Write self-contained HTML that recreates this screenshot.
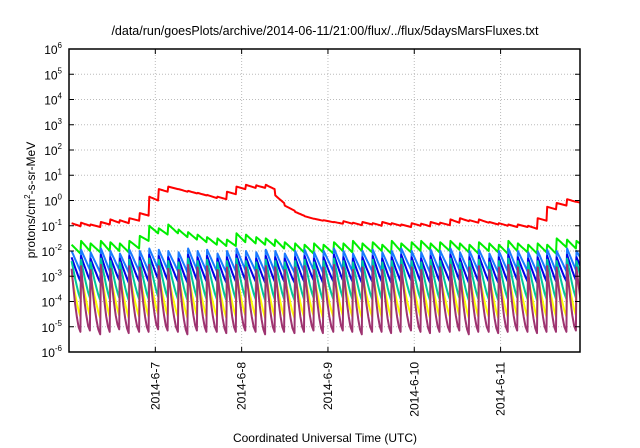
<!DOCTYPE html>
<html><head><meta charset="utf-8"><style>
html,body{margin:0;padding:0;background:#fff;width:640px;height:448px;overflow:hidden}
svg{display:block;font-family:"Liberation Sans",sans-serif}
</style></head><body>
<svg id="chart" width="640" height="448" viewBox="0 0 640 448">
<text x="325" y="35" text-anchor="middle" font-size="12.5" fill="#000">/data/run/goesPlots/archive/2014-06-11/21:00/flux/../flux/5daysMarsFluxes.txt</text>
<text x="325" y="442" text-anchor="middle" font-size="12" fill="#000">Coordinated Universal Time (UTC)</text>
<text transform="translate(35,200) rotate(-90)" text-anchor="middle" font-size="12" fill="#000">protons/cm<tspan dy="-5" font-size="8">2</tspan><tspan dy="5">-s-sr-MeV</tspan></text>
<g id="grid"></g><g id="series"></g><g id="axes"></g>
</svg>
<script>
const yTicks=[6,5,4,3,2,1,0,-1,-2,-3,-4,-5,-6];
const xTicks=[7,8,9,10,11];
const xTickLabels=["2014-6-7","2014-6-8","2014-6-9","2014-6-10","2014-6-11"];
const cycleTimes=[6.03,6.14,6.25,6.37,6.48,6.59,6.70,6.82,6.93,7.04,7.15,7.27,7.38,7.49,7.60,7.72,7.83,7.94,8.05,8.17,8.28,8.39,8.50,8.62,8.73,8.84,8.95,9.07,9.18,9.29,9.40,9.52,9.63,9.74,9.85,9.97,10.08,10.19,10.30,10.42,10.53,10.64,10.75,10.87,10.98,11.09,11.20,11.32,11.43,11.54,11.65,11.77,11.88];
const redPeaks=[-0.90,-0.88,-0.95,-0.85,-0.75,-0.78,-0.70,-0.5,0.15,0.45,0.55,0.45,0.38,0.30,0.22,0.15,0.35,0.55,0.62,0.60,0.62,0.2,-0.2,-0.45,-0.62,-0.72,-0.78,-0.85,-0.82,-0.88,-0.85,-0.9,-0.85,-0.9,-0.95,-0.9,-0.92,-0.85,-0.88,-0.75,-0.7,-0.78,-0.75,-0.85,-0.9,-0.95,-0.95,-1.0,-0.7,-0.25,-0.1,0.05,-0.05];
const redTroughs=[-1.02,-1.0,-1.05,-0.95,-0.88,-0.9,-0.8,-0.6,0.0,0.35,0.45,0.35,0.28,0.2,0.1,0.05,0.25,0.45,0.5,0.5,0.45,-0.1,-0.4,-0.6,-0.72,-0.8,-0.86,-0.92,-0.92,-0.98,-0.95,-1.0,-0.95,-1.0,-1.05,-1.0,-1.02,-0.95,-0.98,-0.88,-0.82,-0.88,-0.88,-0.95,-1.0,-1.05,-1.05,-1.12,-0.8,-0.35,-0.2,-0.05,-0.15];
const greenPeaks=[-1.75,-1.6,-1.7,-1.6,-1.65,-1.7,-1.6,-1.4,-1.0,-1.1,-0.95,-1.15,-1.25,-1.35,-1.45,-1.5,-1.55,-1.3,-1.35,-1.45,-1.5,-1.55,-1.65,-1.7,-1.75,-1.7,-1.75,-1.65,-1.7,-1.6,-1.7,-1.65,-1.75,-1.6,-1.7,-1.65,-1.6,-1.7,-1.65,-1.6,-1.7,-1.75,-1.65,-1.7,-1.75,-1.6,-1.7,-1.75,-1.7,-1.75,-1.5,-1.55,-1.6];
const greenTroughs=[-2.1,-2.0,-2.05,-2.0,-2.0,-2.05,-1.9,-1.6,-1.3,-1.35,-1.3,-1.45,-1.55,-1.65,-1.75,-1.8,-1.8,-1.65,-1.7,-1.75,-1.8,-1.9,-2.0,-2.05,-2.1,-2.05,-2.1,-2.0,-2.05,-2.0,-2.05,-2.0,-2.1,-2.0,-2.05,-2.0,-1.95,-2.05,-2.0,-1.95,-2.05,-2.1,-2.0,-2.05,-2.1,-2.0,-2.05,-2.1,-2.05,-2.1,-1.85,-1.9,-1.95];
const lblueSeries=[-2.0,-1.95,-2.05,-1.9,-2.0,-2.1,-1.95,-2.0,-1.9,-1.95,-2.0,-2.05,-1.9,-2.0,-1.95,-2.1,-2.0,-1.9,-2.0,-2.05,-1.95,-2.0,-2.1,-2.0,-1.95,-2.05,-2.0,-1.9,-2.0,-2.1,-2.0,-1.95,-2.05,-2.0,-1.9,-2.0,-2.05,-1.95,-2.0,-1.9,-2.05,-2.0,-1.95,-2.1,-2.0,-1.9,-2.0,-2.05,-2.0,-1.95,-2.0,-1.9,-2.0];
const lblueTroughs=[-2.8,-2.75,-2.85,-2.8,-2.75,-2.85,-2.8,-2.8,-2.7,-2.75,-2.8,-2.85,-2.75,-2.8,-2.8,-2.85,-2.8,-2.75,-2.8,-2.85,-2.8,-2.8,-2.85,-2.8,-2.75,-2.85,-2.8,-2.75,-2.8,-2.85,-2.8,-2.8,-2.85,-2.8,-2.75,-2.8,-2.85,-2.8,-2.8,-2.75,-2.85,-2.8,-2.8,-2.85,-2.8,-2.75,-2.8,-2.85,-2.8,-2.8,-2.8,-2.75,-2.8];
const dblueSeries=[-2.25,-2.2,-2.3,-2.15,-2.25,-2.3,-2.2,-2.25,-2.15,-2.2,-2.25,-2.3,-2.15,-2.25,-2.2,-2.3,-2.25,-2.15,-2.25,-2.3,-2.2,-2.25,-2.3,-2.25,-2.2,-2.3,-2.25,-2.15,-2.25,-2.3,-2.25,-2.2,-2.3,-2.25,-2.15,-2.25,-2.3,-2.2,-2.25,-2.15,-2.3,-2.25,-2.2,-2.3,-2.25,-2.15,-2.25,-2.3,-2.25,-2.2,-2.25,-2.15,-2.25];
const dblueTroughs=[-3.2,-3.15,-3.25,-3.2,-3.15,-3.25,-3.2,-3.2,-3.1,-3.15,-3.2,-3.25,-3.15,-3.2,-3.2,-3.25,-3.2,-3.15,-3.2,-3.25,-3.2,-3.2,-3.25,-3.2,-3.15,-3.25,-3.2,-3.15,-3.2,-3.25,-3.2,-3.2,-3.25,-3.2,-3.15,-3.2,-3.25,-3.2,-3.2,-3.15,-3.25,-3.2,-3.2,-3.25,-3.2,-3.15,-3.2,-3.25,-3.2,-3.2,-3.2,-3.15,-3.2];
const tealSeries=[-2.4,-2.35,-2.45,-2.3,-2.4,-2.45,-2.35,-2.4,-2.3,-2.35,-2.4,-2.45,-2.3,-2.4,-2.35,-2.45,-2.4,-2.3,-2.4,-2.45,-2.35,-2.4,-2.45,-2.4,-2.35,-2.45,-2.4,-2.3,-2.4,-2.45,-2.4,-2.35,-2.45,-2.4,-2.3,-2.4,-2.45,-2.35,-2.4,-2.3,-2.45,-2.4,-2.35,-2.45,-2.4,-2.3,-2.4,-2.45,-2.4,-2.35,-2.4,-2.3,-2.4];
const tealTroughs=[-3.9,-3.85,-3.95,-3.9,-3.85,-3.95,-3.9,-3.9,-3.8,-3.85,-3.9,-3.95,-3.85,-3.9,-3.9,-3.95,-3.9,-3.85,-3.9,-3.95,-3.9,-3.9,-3.95,-3.9,-3.85,-3.95,-3.9,-3.85,-3.9,-3.95,-3.9,-3.9,-3.95,-3.9,-3.85,-3.9,-3.95,-3.9,-3.9,-3.85,-3.95,-3.9,-3.9,-3.95,-3.9,-3.85,-3.9,-3.95,-3.9,-3.9,-3.9,-3.85,-3.9];
const yellowSeries=[-2.95,-2.9,-3.0,-2.85,-2.95,-3.0,-2.9,-2.95,-2.85,-2.9,-2.95,-3.0,-2.85,-2.95,-2.9,-3.0,-2.95,-2.85,-2.95,-3.0,-2.9,-2.95,-3.0,-2.95,-2.9,-3.0,-2.95,-2.85,-2.95,-3.0,-2.95,-2.9,-3.0,-2.95,-2.85,-2.95,-3.0,-2.9,-2.95,-2.85,-3.0,-2.95,-2.9,-3.0,-2.95,-2.85,-2.95,-3.0,-2.95,-2.9,-2.95,-2.85,-2.95];
const yellowTroughs=[-4.6,-4.55,-4.65,-4.6,-4.55,-4.65,-4.6,-4.6,-4.5,-4.55,-4.6,-4.65,-4.55,-4.6,-4.6,-4.65,-4.6,-4.55,-4.6,-4.65,-4.6,-4.6,-4.65,-4.6,-4.55,-4.65,-4.6,-4.55,-4.6,-4.65,-4.6,-4.6,-4.65,-4.6,-4.55,-4.6,-4.65,-4.6,-4.6,-4.55,-4.65,-4.6,-4.6,-4.65,-4.6,-4.55,-4.6,-4.65,-4.6,-4.6,-4.6,-4.55,-4.6];
const purpleSeries=[-2.7,-2.6,-2.75,-2.55,-2.7,-2.75,-2.6,-2.65,-2.55,-2.6,-2.7,-2.75,-2.55,-2.65,-2.6,-2.75,-2.65,-2.55,-2.65,-2.75,-2.6,-2.65,-2.75,-2.65,-2.6,-2.75,-2.65,-2.55,-2.65,-2.75,-2.65,-2.6,-2.75,-2.65,-2.55,-2.65,-2.75,-2.6,-2.65,-2.55,-2.75,-2.65,-2.6,-2.75,-2.65,-2.55,-2.65,-2.75,-2.65,-2.6,-2.65,-2.55,-2.65];
const purpleTroughs=[-5.2,-5.15,-5.3,-5.2,-5.1,-5.25,-5.2,-5.2,-5.1,-5.15,-5.2,-5.3,-5.15,-5.2,-5.2,-5.25,-5.2,-5.15,-5.2,-5.3,-5.2,-5.2,-5.25,-5.2,-5.15,-5.25,-5.2,-5.15,-5.2,-5.3,-5.2,-5.2,-5.25,-5.2,-5.15,-5.2,-5.25,-5.2,-5.2,-5.15,-5.3,-5.2,-5.2,-5.25,-5.2,-5.15,-5.2,-5.25,-5.2,-5.2,-5.2,-5.15,-5.2];

const L=69,R=580,T=49,B=352,X0=6.0,X1=11.92;
const xs=t=>L+(t-X0)/(X1-X0)*(R-L);
const ys=v=>T+(6-v)/12*(B-T);
const NS="http://www.w3.org/2000/svg";
function mk(tag,attrs,parent){const e=document.createElementNS(NS,tag);for(const k in attrs)e.setAttribute(k,attrs[k]);parent.appendChild(e);return e;}
const grid=document.getElementById('grid'),axes=document.getElementById('axes'),ser=document.getElementById('series');
yTicks.forEach(v=>{
  if(v<6&&v>-6){const g=mk('line',{x1:L,x2:R,y1:ys(v),y2:ys(v),stroke:'#bbb','stroke-dasharray':'1,2'},grid);
  
  }
  const t=mk('text',{x:L-7,y:ys(v)+5,'text-anchor':'end','font-size':'12'},axes);
  
  
  t.innerHTML='10<tspan dy="-6" font-size="8">'+v+'</tspan>';
  mk('line',{x1:L,x2:L+5,y1:ys(v),y2:ys(v),stroke:'#000'},axes);
  mk('line',{x1:R,x2:R-5,y1:ys(v),y2:ys(v),stroke:'#000'},axes);
});
xTicks.forEach((d,i)=>{
  const g=mk('line',{x1:xs(d),x2:xs(d),y1:T,y2:B,stroke:'#bbb','stroke-dasharray':'1,2'},grid);
  
  
  mk('line',{x1:xs(d),x2:xs(d),y1:B,y2:B-5,stroke:'#000'},axes);
  mk('line',{x1:xs(d),x2:xs(d),y1:T,y2:T+5,stroke:'#000'},axes);
  const t=mk('text',{transform:`translate(${xs(d)+4},362) rotate(-90)`,'text-anchor':'end','font-size':'12'},axes);
  
  
  t.textContent=xTickLabels[i];
});
const frame=mk('rect',{x:L,y:T,width:R-L,height:B-T,fill:'none',stroke:'#000','stroke-width':1.5},axes);


const defs=[['red-series','#ff0000',redPeaks,redTroughs,1],['green-series','#00ee00',greenPeaks,greenTroughs,1],['light-blue-series','#1a7aff',lblueSeries,lblueTroughs,1],['dark-blue-series','#0000e8',dblueSeries,dblueTroughs,1.1],['teal-series','#00c89a',tealSeries,tealTroughs,1.2],['yellow-series','#ffff00',yellowSeries,yellowTroughs,1.2],['purple-series','#9e3370',purpleSeries,purpleTroughs,1.6]];
const cp=mk('clipPath',{id:'clip'},ser);mk('rect',{x:L,y:T,width:R-L,height:B-T},cp);
defs.forEach(([name,col,pk,tr,curv])=>{
  const n=Math.min(cycleTimes.length,pk.length,tr.length);
  let pts=[];
  for(let i=0;i<n;i++){
    const t0=cycleTimes[i],t1=i+1<n?cycleTimes[i+1]:X1+0.1;
    pts.push([t0,pk[i]]);
    for(let k=1;k<=5;k++){const f=k/5;const v=tr[i]+(pk[i]-tr[i])*Math.pow(1-f,curv);pts.push([t0+(t1-t0-0.008)*f,v]);}
  }
  const p=mk('polyline',{points:pts.map(q=>xs(q[0]).toFixed(1)+','+ys(q[1]).toFixed(1)).join(' '),fill:'none',stroke:col,'stroke-width':2,'clip-path':'url(#clip)','stroke-linejoin':'round'},ser);
  
  
});
</script>
</body></html>
